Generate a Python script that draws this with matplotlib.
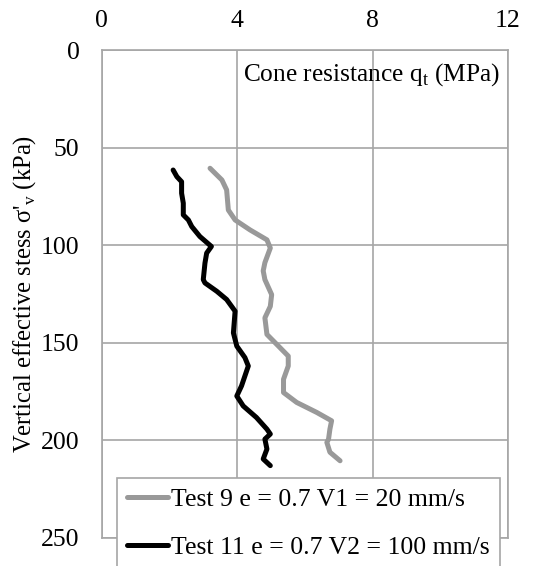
import matplotlib
matplotlib.use("Agg")
import matplotlib.pyplot as plt

plt.rcParams['font.family'] = ['Liberation Serif', 'DejaVu Serif']

# Test 9 (grey) - cone resistance (MPa) vs vertical effective stress (kPa)
test9_qt = [3.20, 3.55, 3.69, 3.74, 3.94, 4.38, 4.88, 4.98, 4.82, 4.77, 4.82, 5.02, 4.98,
            4.82, 4.88, 5.17, 5.51, 5.51, 5.37, 5.37, 5.76, 6.35, 6.79, 6.74, 6.70, 6.65,
            6.74, 7.04]
test9_sv = [60.4, 66.4, 71.5, 81.8, 86.9, 92.0, 97.1, 101.3, 108.8, 113.0, 117.5, 125.2, 131.2,
            137.1, 145.6, 150.7, 156.7, 161.8, 168.6, 175.4, 180.5, 185.6, 189.9, 194.2, 199.3, 201.0,
            206.0, 210.4]

# Test 11 (black)
test11_qt = [2.11, 2.22, 2.36, 2.36, 2.41, 2.41, 2.56, 2.66, 2.90, 3.24, 3.10, 3.05, 3.00,
             3.05, 3.40, 3.69, 3.94, 3.89, 3.99, 4.23, 4.33, 4.23, 4.13, 3.99, 4.18, 4.57,
             4.88, 4.98, 4.82, 4.88, 4.77, 4.98]
test11_sv = [61.3, 64.7, 67.3, 73.2, 78.3, 84.3, 86.9, 90.3, 95.4, 100.5, 103.9, 109.0, 117.5,
             119.2, 123.5, 127.7, 133.7, 144.8, 151.6, 157.5, 161.8, 166.9, 172.0, 177.2, 182.3, 188.2,
             194.2, 196.7, 199.3, 204.4, 209.5, 212.9]

labels = ["Test 9 e = 0.7 V1 = 20 mm/s", "Test 11 e = 0.7 V2 = 100 mm/s"]
x_ticks = [0, 4, 8, 12]
y_ticks = [0, 50, 100, 150, 200, 250]

fig = plt.figure(figsize=(5.33, 5.66), dpi=100)
ax = fig.add_axes([0.1908, 0.0495, 0.7623, 0.8613])

ax.plot(test9_qt, test9_sv, color='#999999', lw=3.6, solid_capstyle='round',
        solid_joinstyle='round', label=labels[0])
ax.plot(test11_qt, test11_sv, color='black', lw=3.6, solid_capstyle='round',
        solid_joinstyle='round', label=labels[1])

ax.set_xlim(0, 12)
ax.set_ylim(250, 0)
ax.set_xticks(x_ticks)
ax.set_yticks(y_ticks)
ax.xaxis.tick_top()
ax.tick_params(length=0, labelsize=18.5)
ax.tick_params(axis='x', pad=13)
ax.tick_params(axis='y', pad=16)
ax.grid(True, color='#a6a6a6', lw=1.2)
for s in ax.spines.values():
    s.set_color('#a6a6a6')
    s.set_linewidth(1.2)

ax.set_ylabel("Vertical effective stess σ'$_\\mathregular{v}$ (kPa)", fontsize=17.7, labelpad=2)
fig.text(0.455, 0.869, "Cone resistance q$_\\mathregular{t}$ (MPa)", fontsize=18.3,
         ha='left', va='center')

leg = fig.legend(loc='upper left', bbox_to_anchor=(0.219, 0.1555), fontsize=18.5, frameon=True,
                 fancybox=False, handlelength=1.6, handletextpad=0.1, borderaxespad=0,
                 borderpad=0.4, labelspacing=0.95, framealpha=1)
leg.get_frame().set_edgecolor('#a6a6a6')
leg.get_frame().set_linewidth(1.2)

fig.savefig("out.png", dpi=100)
